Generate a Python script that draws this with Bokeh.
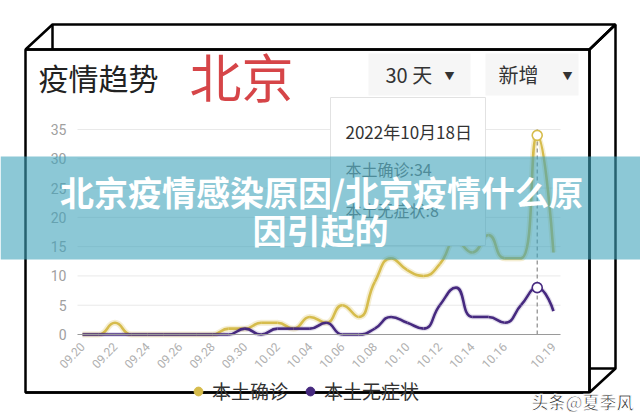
import math
from bokeh.plotting import figure
from bokeh.models import (ColumnDataSource, FixedTicker, Label, BoxAnnotation, LinearAxis,
                          PolyAnnotation, Legend, LegendItem, Range1d)
from bokeh.embed import file_html
from bokeh.resources import INLINE

# ---------------- data ----------------
dates = ["09.20", "09.21", "09.22", "09.23", "09.24", "09.25", "09.26", "09.27",
         "09.28", "09.29", "09.30", "10.01", "10.02", "10.03", "10.04", "10.05",
         "10.06", "10.07", "10.08", "10.09", "10.10", "10.11", "10.12", "10.13",
         "10.14", "10.15", "10.16", "10.17", "10.18", "10.19"]
confirmed = [0, 0, 2, 0, 0, 0, 0, 0, 0, 1, 1, 2, 2, 1, 3, 2, 5, 3, 9, 13,
             11, 10, 12, 16, 14, 17, 13, 13, 34, 14]
asymptomatic = [0, 0, 0, 0, 0, 0, 0, 0, 0, 0, 1, 0, 1, 1, 1, 2, 0, 0, 1, 3,
                2, 1, 5, 8, 3, 3, 2, 5, 8, 4]
series_names = ["本土确诊", "本土无症状"]
x_tick_labels = ["09.20", "09.22", "09.24", "09.26", "09.28", "09.30", "10.02",
                 "10.04", "10.06", "10.08", "10.10", "10.12", "10.14", "10.16", "10.19"]
y_ticks = [0, 5, 10, 15, 20, 25, 30, 35]
highlight_date = "10.18"
highlight_title = "2022年10月18日"
title_text = "疫情趋势"
region_text = "北京"
range_option = "30 天"
mode_option = "新增"
banner_lines = ["北京疫情感染原因/北京疫情什么原", "因引起的"]
watermark_text = "头条@夏季风"

# ---------------- style / layout ----------------
YELLOW = "#D6BC4C"
PURPLE = "#46297F"
CJK = "Noto Sans CJK SC"
NUM = "Roboto"

W, H = 640, 417
CX0, KX = 82.0, 16.24      # pixel x of first date, pixels per day
CY0, KY = 334.0, 5.857     # pixel y of value 0, pixels per unit
GRID_L, GRID_R = 77.0, 560.0
X0 = (GRID_L - CX0) / KX
X1 = (GRID_R - CX0) / KX

xs = list(range(len(dates)))


def smooth_segments(xv, yv, smooth=0.5):
    """ECharts-like smooth bezier control points (computed in pixel space)."""
    px = [v * KX for v in xv]
    py = [v * KY for v in yv]
    n = len(px)
    cin = [(px[i], py[i]) for i in range(n)]
    cout = [(px[i], py[i]) for i in range(n)]
    for i in range(1, n - 1):
        x, y = px[i], py[i]
        pvx, pvy = px[i - 1], py[i - 1]
        nx, ny = px[i + 1], py[i + 1]
        vx, vy = nx - pvx, ny - pvy
        lp = math.hypot(x - pvx, y - pvy)
        ln = math.hypot(nx - x, ny - y)
        r = ln / (ln + lp)
        ncx = x + vx * smooth * r
        ncy = y + vy * smooth * r
        ncx = max(min(ncx, max(nx, x)), min(nx, x))
        ncy = max(min(ncy, max(ny, y)), min(ny, y))
        vx, vy = ncx - x, ncy - y
        c1x = x - vx * lp / ln
        c1y = y - vy * lp / ln
        c1x = max(min(c1x, max(pvx, x)), min(pvx, x))
        c1y = max(min(c1y, max(pvy, y)), min(pvy, y))
        vx, vy = x - c1x, y - c1y
        ncx = x + vx * ln / lp
        ncy = y + vy * ln / lp
        cin[i] = (c1x, c1y)
        cout[i] = (ncx, ncy)
    d = dict(x0=[], y0=[], x1=[], y1=[], cx0=[], cy0=[], cx1=[], cy1=[])
    for i in range(n - 1):
        d["x0"].append(xv[i]); d["y0"].append(yv[i])
        d["x1"].append(xv[i + 1]); d["y1"].append(yv[i + 1])
        d["cx0"].append(cout[i][0] / KX); d["cy0"].append(cout[i][1] / KY)
        d["cx1"].append(cin[i + 1][0] / KX); d["cy1"].append(cin[i + 1][1] / KY)
    return ColumnDataSource(d)


p = figure(width=W, height=H, output_backend="svg", toolbar_location=None, title=None,
           x_axis_type=None, y_axis_type=None,
           x_range=Range1d(-CX0 / KX, (W - CX0) / KX),
           y_range=Range1d(-(H - CY0) / KY, CY0 / KY), min_border=0)
p.outline_line_color = None
p.background_fill_color = "white"
p.border_fill_color = "white"
p.xgrid.visible = False
p.ygrid.visible = False

# horizontal grid lines at the y ticks
grid_src = ColumnDataSource(dict(y=y_ticks[1:]))
p.segment(x0=X0, x1=X1, y0="y", y1="y", source=grid_src, line_color="#e9e9e9", line_width=1)

# axes placed at fixed positions inside the full-canvas frame
tick_idx = [dates.index(t) for t in x_tick_labels]
xaxis = LinearAxis(fixed_location=0, bounds=(X0, X1), ticker=FixedTicker(ticks=tick_idx),
                   major_label_overrides={i: t for i, t in zip(tick_idx, x_tick_labels)},
                   major_label_orientation=0.8, axis_line_color="#9a9a9a", axis_line_width=1.2,
                   major_tick_line_color=None, minor_tick_line_color=None,
                   major_label_text_color="#b0b0b0", major_label_text_font=NUM,
                   major_label_text_font_size="12px", major_label_standoff=4)
p.add_layout(xaxis, "below")
yaxis = LinearAxis(fixed_location=X0, bounds=(0, 35), ticker=FixedTicker(ticks=y_ticks),
                   axis_line_color=None, major_tick_line_color=None, minor_tick_line_color=None,
                   major_label_text_color="#a0a0a0", major_label_text_font=NUM,
                   major_label_text_font_size="14px", major_label_standoff=5)
p.add_layout(yaxis, "left")

# axis pointer (dashed) at the highlighted date
hi = dates.index(highlight_date)
p.segment(x0=[hi], x1=[hi], y0=[0], y1=[y_ticks[-1]], line_color="#8a8a8a",
          line_dash="4 3", line_width=1.2)

# smooth lines
src_c = smooth_segments(xs, confirmed)
src_a = smooth_segments(xs, asymptomatic)
bz = dict(x0="x0", y0="y0", x1="x1", y1="y1", cx0="cx0", cy0="cy0", cx1="cx1", cy1="cy1")
p.bezier(source=src_c, line_color=YELLOW, line_width=6, line_alpha=0.25, **bz)
p.bezier(source=src_c, line_color=YELLOW, line_width=2.6, **bz)
p.bezier(source=src_a, line_color=PURPLE, line_width=5, line_alpha=0.15, **bz)
p.bezier(source=src_a, line_color=PURPLE, line_width=2.6, **bz)

# highlighted points (filled dot used for legend, open circle on top)
dot_c = p.scatter(x=[hi], y=[confirmed[hi]], size=6, fill_color=YELLOW, line_color=YELLOW)
dot_a = p.scatter(x=[hi], y=[asymptomatic[hi]], size=6, fill_color=PURPLE, line_color=PURPLE)
p.scatter(x=[hi], y=[confirmed[hi]], size=10, fill_color="white", line_color=YELLOW, line_width=1.6)
p.scatter(x=[hi], y=[asymptomatic[hi]], size=10, fill_color="white", line_color=PURPLE, line_width=1.6)

# bottom edge of the photographed card (decoration, pixel position -> plot units)
CARD_L, CARD_R, CARD_B = 25.0, 589.0, 392.0
p.segment(x0=[(CARD_L - CX0) / KX], x1=[(CARD_R - CX0) / KX],
          y0=[(CY0 - CARD_B) / KY], y1=[(CY0 - CARD_B) / KY],
          line_color="black", line_width=2.5)


def canvas_box(l, r, t, b, **kw):
    return BoxAnnotation(left=l, right=r, top=t, bottom=b,
                         left_units="canvas", right_units="canvas",
                         top_units="canvas", bottom_units="canvas", **kw)


def canvas_label(x, y, text, **kw):
    return Label(x=x, y=y, x_units="canvas", y_units="canvas", text=text, **kw)


# tooltip
p.add_layout(canvas_box(330, 485, 97, 245, fill_color="white", fill_alpha=1,
                        line_color="#e2e2e2", line_width=1, line_alpha=1))
p.add_layout(canvas_label(345, 131, highlight_title, text_font=CJK, text_font_size="17px",
                          text_color="#333333", text_baseline="middle"))
p.add_layout(canvas_label(345, 168, f"{series_names[0]}:{confirmed[hi]}", text_font=CJK,
                          text_font_size="16px", text_color="#666666", text_baseline="middle"))
p.add_layout(canvas_label(345, 209, f"{series_names[1]}:{asymptomatic[hi]}", text_font=CJK,
                          text_font_size="16px", text_color="#666666", text_baseline="middle"))

# header
p.add_layout(canvas_label(38, 76, title_text, text_font=CJK, text_font_size="30px",
                          text_color="#222222", text_baseline="middle"))
p.add_layout(canvas_label(189, 75, region_text, text_font=CJK, text_font_size="52px",
                          text_color="#D64548", text_baseline="middle"))
p.add_layout(canvas_box(368, 470, 53, 95, fill_color="#f6f6f6", fill_alpha=1, line_color=None))
p.add_layout(canvas_box(485, 578, 53, 95, fill_color="#f6f6f6", fill_alpha=1, line_color=None))
p.add_layout(canvas_label(385, 74, range_option, text_font=CJK, text_font_size="20px",
                          text_color="#333333", text_baseline="middle"))
p.add_layout(canvas_label(449, 75, "▼", text_font=CJK, text_font_size="10px",
                          text_color="#333333", text_baseline="middle", text_align="center"))
p.add_layout(canvas_label(498, 74, mode_option, text_font=CJK, text_font_size="20px",
                          text_color="#333333", text_baseline="middle"))
p.add_layout(canvas_label(567, 75, "▼", text_font=CJK, text_font_size="10px",
                          text_color="#333333", text_baseline="middle", text_align="center"))

# 3D box frame around the card
frame_polys = [
    ([25, 589, 589, 25], [49, 49, 392, 392]),
    ([25, 52, 615, 589], [49, 24, 24, 49]),
    ([52, 52], [24, 49]),
    ([589, 615, 615, 589], [49, 24, 368, 392]),
    ([589, 615], [368, 368]),
]
for fx, fy in frame_polys:
    p.add_layout(PolyAnnotation(xs=fx, ys=fy, xs_units="canvas", ys_units="canvas",
                                fill_alpha=0, line_color="black", line_alpha=1,
                                line_width=2.5))

# legend (frame covers the whole canvas: location is from the bottom-left corner)
legend = Legend(items=[LegendItem(label=series_names[0], renderers=[dot_c]),
                       LegendItem(label=series_names[1], renderers=[dot_a])],
                orientation="horizontal", location=(187, 13),
                glyph_width=22, glyph_height=22, label_height=22, label_standoff=3,
                spacing=11, padding=0, margin=0, border_line_color=None,
                background_fill_alpha=0, label_text_font=CJK,
                label_text_font_size="19px", label_text_color="#333333")
p.add_layout(legend, "center")

# semi-transparent banner
p.add_layout(canvas_box(0, W, 156, 259, fill_color="#3fa3bb", fill_alpha=0.6,
                        line_color=None, line_alpha=0))
p.add_layout(canvas_label(321, 191, banner_lines[0], text_font=CJK, text_font_size="34px",
                          text_font_style="bold", text_color="white", text_align="center",
                          text_baseline="middle"))
p.add_layout(canvas_label(320, 229, banner_lines[1], text_font=CJK, text_font_size="34px",
                          text_font_style="bold", text_color="white", text_align="center",
                          text_baseline="middle"))

# watermark
p.add_layout(canvas_label(633, 401, watermark_text, text_font=CJK, text_font_size="17px",
                          text_font_style="bold", text_color="#333333", text_align="right",
                          text_baseline="middle", text_outline_color="white"))

open("out.html", "w").write(file_html(p, INLINE))
